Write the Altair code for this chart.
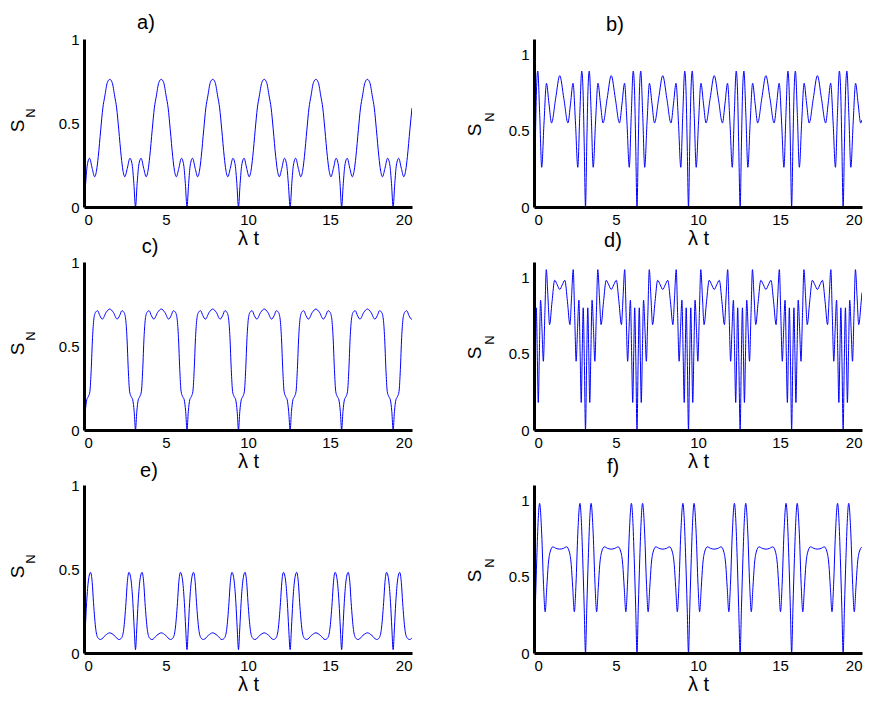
import altair as alt
import pandas as pd

FONT = "Liberation Sans"
T_END = 20.0

# Times (lambda t) at which every curve returns to its minimum (period = pi)
period_starts = [0.0, 3.14, 6.28, 9.42, 12.57, 15.71, 18.85]

# ---- one period of each curve (offset u from period start, S_N) ----
a_u = [0.00, 0.10, 0.20, 0.34, 0.50, 0.65, 0.77, 0.87, 1.02, 1.15, 1.27, 1.42, 1.57,
       1.72, 1.87, 1.99, 2.12, 2.27, 2.37, 2.49, 2.64, 2.80, 2.94, 3.04]
a_s = [0.00, 0.14, 0.25, 0.29, 0.23, 0.18, 0.22, 0.30, 0.46, 0.59, 0.66, 0.74, 0.76,
       0.74, 0.66, 0.59, 0.46, 0.30, 0.22, 0.18, 0.23, 0.29, 0.25, 0.14]
a_end = 0.59

b_u = [0.00, 0.08, 0.15, 0.23, 0.35, 0.47, 0.61, 0.76, 0.91, 1.07, 1.32, 1.57,
       1.82, 2.07, 2.23, 2.38, 2.53, 2.67, 2.79, 2.91, 2.99, 3.06]
b_s = [0.00, 0.42, 0.76, 0.89, 0.60, 0.26, 0.55, 0.81, 0.68, 0.55, 0.71, 0.86,
       0.71, 0.55, 0.68, 0.81, 0.55, 0.26, 0.60, 0.89, 0.76, 0.42]
b_end = 0.57

c_u = [0.00, 0.08, 0.17, 0.27, 0.36, 0.44, 0.52, 0.60, 0.70, 0.83, 0.97, 1.12, 1.35, 1.57,
       1.79, 2.02, 2.17, 2.31, 2.44, 2.54, 2.62, 2.70, 2.78, 2.87, 2.97, 3.06]
c_s = [0.00, 0.11, 0.18, 0.20, 0.23, 0.36, 0.55, 0.66, 0.70, 0.71, 0.68, 0.66, 0.70, 0.72,
       0.70, 0.66, 0.68, 0.71, 0.70, 0.66, 0.55, 0.36, 0.23, 0.20, 0.18, 0.11]
c_end = 0.66

d_u = [0.00, 0.07, 0.14, 0.20, 0.26, 0.33, 0.40, 0.49, 0.57, 0.66, 0.75, 0.85, 0.95, 1.10,
       1.26, 1.42, 1.57, 1.72, 1.88, 2.04, 2.19, 2.29, 2.39, 2.48, 2.57, 2.65, 2.74, 2.81,
       2.88, 2.94, 3.00, 3.07]
d_s = [0.00, 0.45, 0.80, 0.50, 0.18, 0.52, 0.85, 0.65, 0.45, 0.75, 1.05, 0.87, 0.69, 0.84,
       0.98, 0.95, 0.92, 0.95, 0.98, 0.84, 0.69, 0.87, 1.05, 0.75, 0.45, 0.65, 0.85, 0.52,
       0.18, 0.50, 0.80, 0.45]
d_end = 0.90

e_u = [0.00, 0.08, 0.16, 0.28, 0.40, 0.50, 0.58, 0.72, 0.85, 1.01, 1.30, 1.57,
       1.84, 2.13, 2.29, 2.42, 2.56, 2.64, 2.74, 2.86, 2.98, 3.06]
e_s = [0.02, 0.15, 0.30, 0.44, 0.48, 0.42, 0.30, 0.14, 0.09, 0.08, 0.105, 0.12,
       0.105, 0.08, 0.09, 0.14, 0.30, 0.42, 0.48, 0.44, 0.30, 0.15]
e_end = 0.09

f_u = [0.00, 0.08, 0.17, 0.26, 0.34, 0.47, 0.58, 0.68, 0.78, 0.87, 0.98, 1.15, 1.35, 1.57,
       1.79, 1.99, 2.16, 2.27, 2.36, 2.46, 2.56, 2.67, 2.80, 2.88, 2.97, 3.06]
f_s = [0.00, 0.30, 0.62, 0.88, 0.98, 0.78, 0.45, 0.27, 0.43, 0.58, 0.66, 0.695, 0.685, 0.68,
       0.685, 0.695, 0.66, 0.58, 0.43, 0.27, 0.45, 0.78, 0.98, 0.88, 0.62, 0.30]
f_end = 0.695

panel_labels = ["a)", "b)", "c)", "d)", "e)", "f)"]
x_ticks = [0, 5, 10, 15, 20]
y_ticks = [0, 0.5, 1]


def build(u, s, end):
    rows = []
    for z in period_starts:
        for uu, ss in zip(u, s):
            t = round(z + uu, 2)
            if t < T_END:
                rows.append({"t": t, "s": ss})
    rows.append({"t": T_END, "s": end})
    return pd.DataFrame(rows)


def text_layer(txt, x, y, size, angle=0):
    return alt.Chart(pd.DataFrame({"txt": [txt]})).mark_text(
        font=FONT, fontSize=size, color="black", align="center", baseline="middle", angle=angle
    ).encode(text="txt:N", x=alt.value(x), y=alt.value(y))


W, H = 328, 168


def panel(df, label, ymax, left, title_xy):
    xax = alt.Axis(values=x_ticks, format="d", title="λ t", titleFont=FONT, titleFontSize=20,
                   titleFontWeight="normal", titleColor="black", titlePadding=1,
                   labelFont=FONT, labelFontSize=15, labelColor="black", labelPadding=5,
                   ticks=False, tickSize=0, grid=False, domainWidth=3, domainColor="black",
                   zindex=1)
    yax = alt.Axis(values=y_ticks, format=".1~f", title=None,
                   labelFont=FONT, labelFontSize=15, labelColor="black", labelPadding=5,
                   ticks=False, tickSize=0, grid=False, domainWidth=3, domainColor="black",
                   zindex=1)
    line = alt.Chart(df).mark_line(color="#0000ff", strokeWidth=1, interpolate="monotone",
                                   clip=True).encode(
        x=alt.X("t:Q", scale=alt.Scale(domain=[0, 20], nice=False), axis=xax),
        y=alt.Y("s:Q", scale=alt.Scale(domain=[0, ymax], nice=False), axis=yax),
    )
    if left:
        s_pos, n_pos = (-66, 87), (-53, 74)
    else:
        s_pos, n_pos = (-59, 91), (-44, 78)
    layers = [
        line,
        text_layer("S", s_pos[0], s_pos[1], 19, 270),
        text_layer("N", n_pos[0], n_pos[1], 13, 270),
        text_layer(label, title_xy[0], title_xy[1], 20),
    ]
    return alt.layer(*layers).properties(width=W, height=H)


series = [(a_u, a_s, a_end), (b_u, b_s, b_end), (c_u, c_s, c_end),
          (d_u, d_s, d_end), (e_u, e_s, e_end), (f_u, f_s, f_end)]
title_pos = [(62, -16), (81, -14), (66, -15), (79, -21), (65, -14), (79, -18)]

panels = []
for i, (u, s, end) in enumerate(series):
    left = (i % 2 == 0)
    panels.append(panel(build(u, s, end), panel_labels[i], 1.0 if left else 1.1, left, title_pos[i]))

chart = alt.concat(*panels, columns=2, spacing={"row": 55, "column": 122}, bounds="flush")
chart = chart.configure_view(stroke=None).properties(
    background="white", padding={"left": 1, "top": 5, "right": 5, "bottom": 5})

chart.save("out.html", embed_options={"renderer": "svg", "actions": False})
